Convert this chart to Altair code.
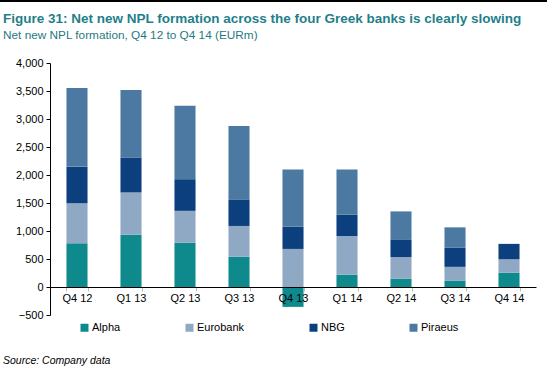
import altair as alt
import pandas as pd

quarters = ["Q4 12", "Q1 13", "Q2 13", "Q3 13", "Q4 13", "Q1 14", "Q2 14", "Q3 14", "Q4 14"]
banks = ["Alpha", "Eurobank", "NBG", "Piraeus"]
alpha = [780, 935, 790, 540, -355, 220, 150, 115, 255]
eurobank = [715, 755, 570, 550, 680, 690, 385, 245, 240]
nbg = [655, 620, 565, 475, 395, 380, 305, 340, 275]
piraeus = [1405, 1210, 1310, 1310, 1025, 810, 510, 365, 0]
colors = ["#0F8A8C", "#8FA8C4", "#0B3F7D", "#4C79A2"]

rows = []
for bi, (b, vals) in enumerate(zip(banks, [alpha, eurobank, nbg, piraeus])):
    for q, v in zip(quarters, vals):
        rows.append({"quarter": q, "bank": b, "value": v, "ord": bi})
df = pd.DataFrame(rows)

FONT = "Liberation Sans"

bars = alt.Chart(df).mark_bar().encode(
    x=alt.X("quarter:N", sort=quarters, title=None,
            scale=alt.Scale(paddingInner=0.61, paddingOuter=0.305),
            axis=alt.Axis(labelAngle=0, offset=-28, zindex=1, domainColor="#000000",
                          tickBand="extent", tickColor="#BBBBBB", tickSize=4,
                          labelFontSize=11, labelColor="#000000", labelPadding=1,
                          labelFont=FONT)),
    y=alt.Y("value:Q", title=None, stack="zero",
            scale=alt.Scale(domain=[-500, 4000], nice=False),
            axis=alt.Axis(values=list(range(-500, 4001, 500)), format=",.0f", grid=False,
                          domainColor="#000000", tickColor="#000000", tickSize=4,
                          labelFontSize=11, labelColor="#000000", labelPadding=3,
                          labelFont=FONT)),
    color=alt.Color("bank:N", sort=banks, title=None,
                    scale=alt.Scale(domain=banks, range=colors),
                    legend=alt.Legend(orient="none", legendX=29, legendY=259,
                                      direction="horizontal", columns=4,
                                      symbolType="square", symbolSize=64,
                                      symbolStrokeWidth=0, labelFontSize=11,
                                      labelFont=FONT, labelColor="#000000",
                                      labelOffset=2, columnPadding=63)),
    order=alt.Order("ord:Q"),
)

topline = alt.Chart(df).mark_rule(color="#000000", strokeWidth=1).encode(
    x=alt.value(-50), x2=alt.value(497), y=alt.value(-62)
)

source = alt.Chart(pd.DataFrame({"t": ["Source: Company data"]})).mark_text(
    align="left", baseline="middle", fontStyle="italic", fontSize=10.5, font=FONT, color="#000000"
).encode(x=alt.value(-47), y=alt.value(298), text="t:N")

chart = alt.layer(topline, bars, source).properties(
    width=486, height=252,
    autosize=alt.AutoSizeParams(type="none"),
    padding={"left": 50, "top": 63, "right": 11, "bottom": 61},
    title=alt.TitleParams(
        "Figure 31: Net new NPL formation across the four Greek banks is clearly slowing",
        subtitle="Net new NPL formation, Q4 12 to Q4 14 (EURm)",
        anchor="start", frame="group", dx=-47, offset=-41,
        font=FONT, fontSize=13.5, fontWeight="bold", color="#1F7F8A",
        subtitleFont=FONT, subtitleFontSize=11.8, subtitleColor="#1F7A80", subtitlePadding=4,
    ),
).configure_view(stroke=None)

chart.save("out.html", embed_options={"renderer": "svg", "actions": False})
